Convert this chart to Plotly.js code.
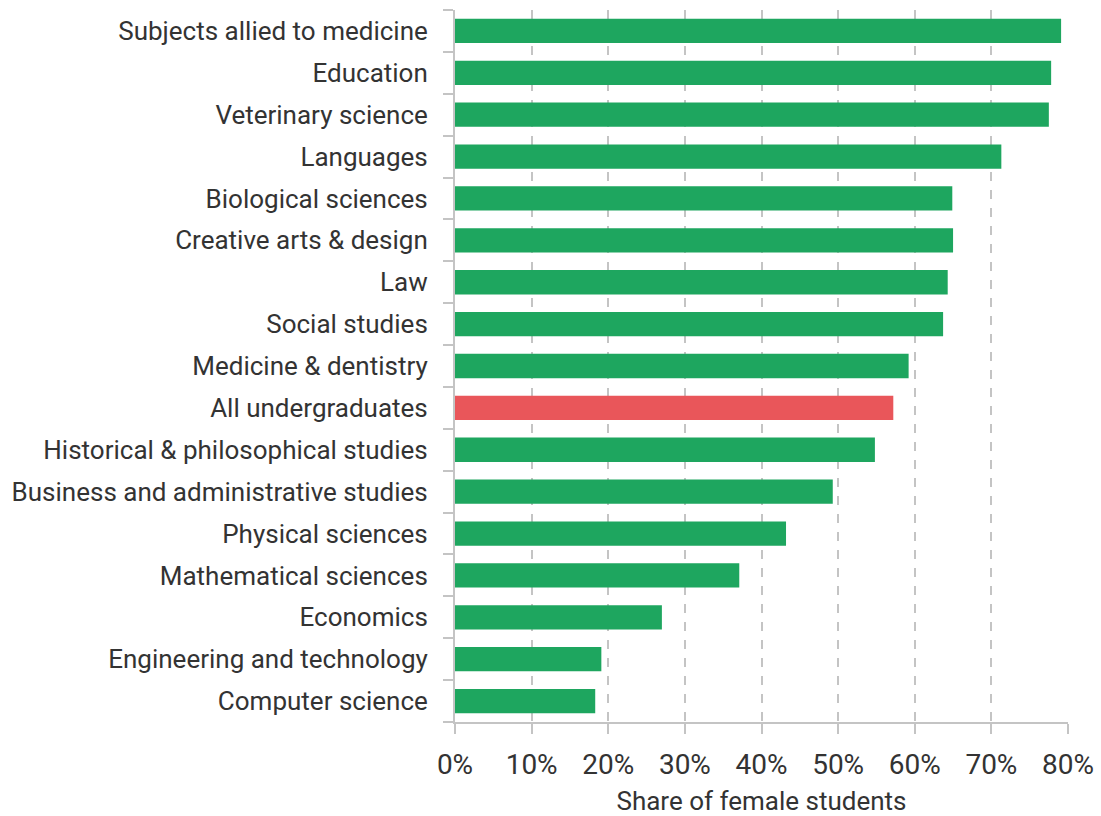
<!DOCTYPE html>
<html><head><meta charset="utf-8">
<script src="https://cdn.plot.ly/plotly-3.0.1.min.js"></script>
<style>body{margin:0;background:#fff}#chart{width:1101px;height:816px}</style>
</head><body><div id="chart"></div>
<script>
var categories = ["Subjects allied to medicine","Education","Veterinary science","Languages","Biological sciences","Creative arts & design","Law","Social studies","Medicine & dentistry","All undergraduates","Historical & philosophical studies","Business and administrative studies","Physical sciences","Mathematical sciences","Economics","Engineering and technology","Computer science"];
var shares = [79.1,77.8,77.5,71.3,64.9,65.0,64.3,63.7,59.2,57.2,54.8,49.3,43.2,37.1,27.0,19.1,18.3];
var highlight = "All undergraduates";
var tickVals = [0,10,20,30,40,50,60,70,80];
var tickText = ["0%","10%","20%","30%","40%","50%","60%","70%","80%"];

var colors = categories.map(function(c){return c===highlight ? "#e9565a" : "#1ea65f";});
var data = [{
  type:"bar", orientation:"h",
  y:categories.slice().reverse(), x:shares.slice().reverse(),
  marker:{color:colors.slice().reverse()},
  hoverinfo:"x+y"
}];
var font = {family:"Roboto, 'Open Sans', sans-serif", color:"#333", size:26};
var layout = {
  width:1101, height:816,
  margin:{l:455, r:33, t:10, b:94},
  paper_bgcolor:"#fff", plot_bgcolor:"#fff",
  font:font, bargap:0.42, showlegend:false,
  xaxis:{range:[0,80], tickvals:tickVals, ticktext:tickText,
    showgrid:true, gridcolor:"#c4c4c4", griddash:"dash", gridwidth:1.5,
    showline:true, linecolor:"#c4c4c4", linewidth:2,
    ticks:"outside", ticklen:10, tickcolor:"#c4c4c4", tickwidth:2,
    zeroline:false, tickfont:{size:28, color:"#333"}, ticklabelstandoff:6,
    title:{text:"Share of female students", font:{size:26,color:"#333"}, standoff:21}},
  yaxis:{type:"category", showgrid:false, showline:true, linecolor:"#c4c4c4", linewidth:2,
    ticks:"outside", ticklen:10, tickcolor:"#c4c4c4", tickwidth:2, tickson:"boundaries",
    ticklabelstandoff:20, tickfont:{size:26,color:"#333"}, zeroline:false}
};
Plotly.newPlot("chart", data, layout, {displayModeBar:false});
</script></body></html>
